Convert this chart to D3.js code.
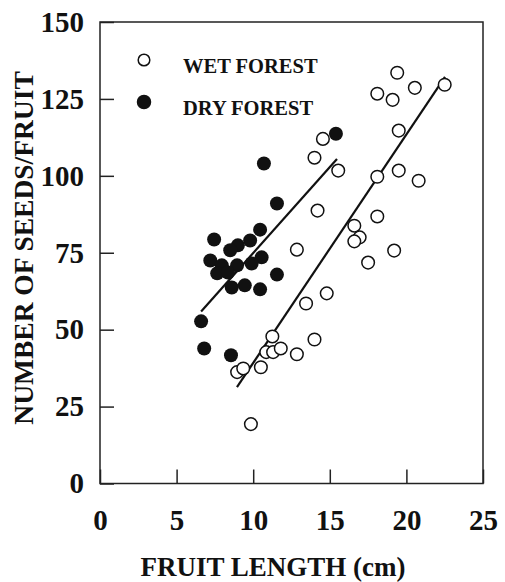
<!DOCTYPE html>
<html>
<head>
<meta charset="utf-8">
<script src="https://cdn.jsdelivr.net/npm/d3@7"></script>
<style>
  body { margin: 0; background: #fff; }
  svg { display: block; }
  text { font-family: "Liberation Serif", "Times New Roman", serif; font-weight: bold; fill: #111; }
</style>
</head>
<body>
<svg id="chart" width="505" height="582"></svg>
<script>
// wet forest fruits: [length cm, seeds]
const wetForest = [
  [8.95, 36.2], [9.35, 37.4], [9.85, 19.3], [10.5, 37.8], [10.85, 42.7],
  [11.3, 42.7], [11.25, 47.8], [11.8, 43.9], [12.85, 42], [14.0, 46.8],
  [13.45, 58.5], [14.8, 61.8], [12.85, 76], [14.2, 88.7], [14.0, 105.9],
  [14.55, 112], [15.55, 101.7], [16.6, 83.8], [16.95, 80], [16.6, 78.7],
  [17.5, 71.8], [18.1, 86.8], [18.1, 99.7], [19.2, 75.7], [19.5, 101.7],
  [20.8, 98.4], [19.5, 114.7], [18.1, 126.7], [19.1, 124.7], [19.4, 133.5],
  [20.55, 128.6], [22.5, 129.6]
];
// dry forest fruits
const dryForest = [
  [6.6, 52.7], [6.8, 43.9], [8.55, 41.7], [10.7, 104], [15.4, 113.7],
  [11.55, 91], [10.45, 82.5], [7.45, 79.3], [9.8, 79], [9.0, 77.4],
  [8.5, 75.8], [7.2, 72.5], [7.95, 70.9], [8.95, 70.9], [7.65, 68.3],
  [8.35, 68.6], [10.55, 73.5], [11.55, 67.9], [8.6, 63.7], [9.45, 64.4],
  [10.45, 63.1], [9.9, 71.5]
];
// fitted lines: [x start, y start], [x end, y end]
const wetLine = [[8.94, 31.3], [22.52, 132.2]];
const dryLine = [[6.6, 55.9], [15.47, 105.5]];

const xTicks = [0, 5, 10, 15, 20, 25];
const yTicks = [0, 25, 50, 75, 100, 125, 150];
const legendItems = ["WET FOREST", "DRY FOREST"];

const svg = d3.select("#chart");
const plotLeft = 100, plotRight = 483, plotTop = 22, plotBottom = 483.5;

const x = d3.scaleLinear().domain([0, 25]).range([plotLeft, plotRight]);
const y = d3.scaleLinear().domain([0, 150]).range([plotBottom, plotTop]);

// axes with ticks pointing inward
svg.append("g")
    .attr("transform", `translate(0,${plotBottom})`)
    .call(d3.axisBottom(x).tickValues(xTicks).tickSizeInner(-14).tickSizeOuter(0).tickPadding(26))
    .call(g => g.select(".domain").remove())
    .call(g => g.selectAll("line").attr("stroke", "#222").attr("stroke-width", 1.5))
    .call(g => g.selectAll("text").attr("font-size", 29).attr("fill", "#111")
      .attr("font-family", "Liberation Serif, serif").attr("font-weight", "bold"));

svg.append("g")
    .attr("transform", `translate(${plotLeft},0)`)
    .call(d3.axisLeft(y).tickValues(yTicks).tickSizeInner(-14).tickSizeOuter(0).tickPadding(16))
    .call(g => g.select(".domain").remove())
    .call(g => g.selectAll("line").attr("stroke", "#222").attr("stroke-width", 1.5))
    .call(g => g.selectAll("text").attr("font-size", 29).attr("fill", "#111")
      .attr("font-family", "Liberation Serif, serif").attr("font-weight", "bold"));

// frame
svg.append("rect")
    .attr("x", plotLeft).attr("y", plotTop)
    .attr("width", plotRight - plotLeft).attr("height", plotBottom - plotTop)
    .attr("fill", "none").attr("stroke", "#222").attr("stroke-width", 1.5);

// regression lines
const line = d3.line().x(d => x(d[0])).y(d => y(d[1]));
svg.selectAll(".fit")
  .data([wetLine, dryLine])
  .join("path")
    .attr("class", "fit")
    .attr("d", line)
    .attr("fill", "none")
    .attr("stroke", "#111")
    .attr("stroke-width", 2.2);

svg.append("g")
  .selectAll("circle")
  .data(wetForest)
  .join("circle")
    .attr("cx", d => x(d[0]))
    .attr("cy", d => y(d[1]))
    .attr("r", 6.3)
    .attr("fill", "#fff")
    .attr("stroke", "#111")
    .attr("stroke-width", 1.5);

svg.append("g")
  .selectAll("circle")
  .data(dryForest)
  .join("circle")
    .attr("cx", d => x(d[0]))
    .attr("cy", d => y(d[1]))
    .attr("r", 7)
    .attr("fill", "#111");

// legend
const legend = svg.append("g")
  .selectAll("g")
  .data(legendItems)
  .join("g")
    .attr("transform", (d, i) => `translate(144,${60 + i * 42})`);
legend.append("circle")
    .attr("r", (d, i) => i ? 6.5 : 5.8)
    .attr("fill", (d, i) => i ? "#111" : "#fff")
    .attr("stroke", "#111")
    .attr("stroke-width", 1.5);
legend.append("text")
    .attr("x", 39)
    .attr("y", 13)
    .attr("font-size", 20.5)
    .text(d => d);

// axis titles
svg.append("text")
    .attr("x", 273).attr("y", 576)
    .attr("text-anchor", "middle")
    .attr("font-size", 27)
    .text("FRUIT LENGTH (cm)");

svg.append("text")
    .attr("transform", "translate(33,248) rotate(-90)")
    .attr("text-anchor", "middle")
    .attr("font-size", 27.5)
    .text("NUMBER OF SEEDS/FRUIT");
</script>
</body>
</html>
